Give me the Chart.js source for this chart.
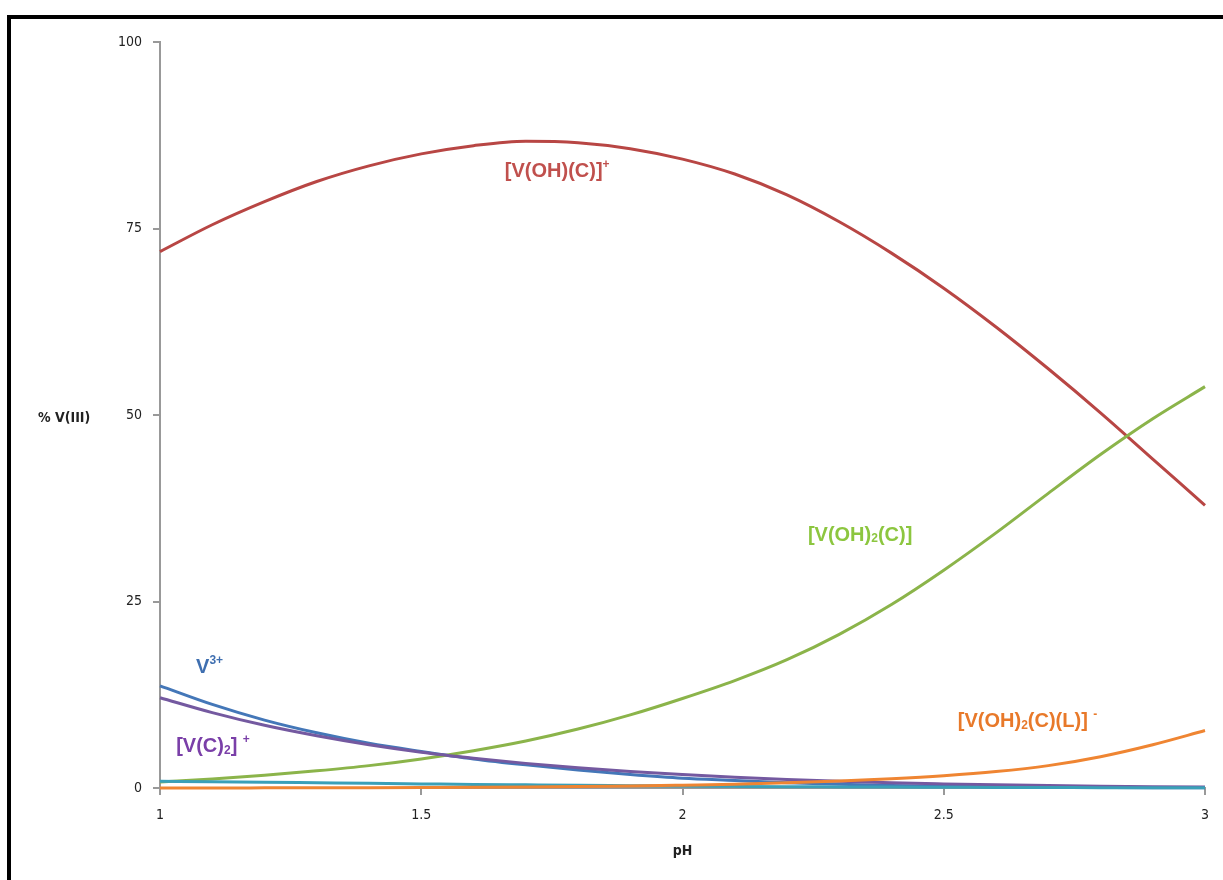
<!DOCTYPE html>
<html>
<head>
<meta charset="utf-8">
<script src="https://cdn.jsdelivr.net/npm/chart.js@4.4.1/dist/chart.umd.min.js"></script>
<style>
  html, body { margin: 0; padding: 0; background: #fff; overflow: hidden; }
  #wrap { position: relative; width: 1223px; height: 880px; }
  #frame { position: absolute; left: 7px; top: 15px; width: 1400px; height: 1000px;
           border: 4px solid #000; pointer-events: none; }
</style>
</head>
<body>
<div id="wrap">
  <canvas id="speciation" width="1223" height="880"></canvas>
  <div id="frame"></div>
</div>
<script>
// pH values (x) and % of V(III) for each species
const pH = [1.0, 1.1, 1.2, 1.3, 1.4, 1.5, 1.6, 1.7, 1.8, 1.9, 2.0,
            2.1, 2.2, 2.3, 2.4, 2.5, 2.6, 2.7, 2.8, 2.9, 3.0];

const vFree   = [13.7, 11.2, 9.1, 7.4, 6.0, 4.9, 3.9, 3.1, 2.4, 1.8, 1.3,
                 1.0, 0.7, 0.5, 0.35, 0.25, 0.18, 0.12, 0.08, 0.05, 0.03];           // V3+
const vOHC    = [71.9, 75.5, 78.6, 81.3, 83.4, 85.0, 86.1, 86.7, 86.5, 85.7, 84.3,
                 82.3, 79.5, 75.9, 71.7, 67.0, 61.8, 56.2, 50.3, 44.1, 37.9];        // [V(OH)(C)]+
const vOH2C   = [0.8, 1.2, 1.7, 2.3, 3.0, 3.9, 5.0, 6.3, 7.9, 9.8, 12.0,
                 14.4, 17.2, 20.6, 24.6, 29.2, 34.2, 39.5, 44.7, 49.5, 53.8];        // [V(OH)2(C)]
const vC2     = [12.1, 10.1, 8.4, 7.0, 5.8, 4.8, 4.0, 3.3, 2.7, 2.2, 1.8,
                 1.45, 1.15, 0.9, 0.7, 0.55, 0.42, 0.32, 0.24, 0.18, 0.13];          // [V(C)2]+
const vOther  = [0.9, 0.85, 0.78, 0.7, 0.62, 0.55, 0.48, 0.42, 0.36, 0.31, 0.26,
                 0.22, 0.18, 0.15, 0.12, 0.1, 0.08, 0.06, 0.05, 0.04, 0.03];
const vOH2CL  = [0.01, 0.01, 0.02, 0.03, 0.04, 0.06, 0.09, 0.13, 0.19, 0.27, 0.38,
                 0.5, 0.7, 0.95, 1.25, 1.65, 2.2, 3.0, 4.2, 5.8, 7.7];              // [V(OH)2(C)(L)]-

const xTicks = [1, 1.5, 2, 2.5, 3];
const yTicks = [0, 25, 50, 75, 100];

// species labels written on the plot, placed in data units (pH, %)
const speciesLabels = [
  { at: [1.66, 82.6], color: '#c0504d', parts: [['[V(OH)(C)]', 'n'], ['+', 'sup']] },
  { at: [2.24, 33.9], color: '#8cc63f', parts: [['[V(OH)', 'n'], ['2', 'sub'], ['(C)]', 'n']] },
  { at: [2.527, 8.85], color: '#e8792a', parts: [['[V(OH)', 'n'], ['2', 'sub'], ['(C)(L)] ', 'n'], ['-', 'sup']] },
  { at: [1.069, 16.1], color: '#3f6fb0', parts: [['V', 'n'], ['3+', 'sup']] },
  { at: [1.031, 5.6], color: '#7a3fa8', parts: [['[V(C)', 'n'], ['2', 'sub'], ['] ', 'n'], ['+', 'sup']] }
];

function pts(vals) {
  return pH.map((x, i) => ({ x: x, y: vals[i] }));
}

function line(vals, color) {
  return {
    data: pts(vals),
    borderColor: color,
    borderWidth: 3,
    pointRadius: 0,
    fill: false,
    cubicInterpolationMode: 'monotone',
    clip: 6
  };
}

const labelPlugin = {
  id: 'speciesText',
  afterDatasetsDraw(chart) {
    const ctx = chart.ctx;
    const xs = chart.scales.x, ys = chart.scales.y;
    ctx.save();
    ctx.textBaseline = 'middle';
    ctx.textAlign = 'left';
    speciesLabels.forEach(l => {
      let px = xs.getPixelForValue(l.at[0]);
      const py = ys.getPixelForValue(l.at[1]);
      ctx.fillStyle = l.color;
      l.parts.forEach(p => {
        let dy = 0;
        if (p[1] == 'n') ctx.font = 'bold 20px "Liberation Sans", Arial, sans-serif';
        else ctx.font = 'bold 12px "Liberation Sans", Arial, sans-serif';
        if (p[1] == 'sup') dy = -7;
        if (p[1] == 'sub') dy = 4;
        ctx.fillText(p[0], px, py + dy);
        px += ctx.measureText(p[0]).width;
      });
    });
    // axis titles
    ctx.fillStyle = '#222';
    ctx.font = 'bold 14px "DejaVu Sans Condensed", "DejaVu Sans", sans-serif';
    ctx.fillText('% V(III)', 38, ys.getPixelForValue(50) + 3);
    ctx.textAlign = 'center';
    ctx.fillText('pH', xs.getPixelForValue(2), 851);
    ctx.restore();
  }
};

const tickFont = { family: '"DejaVu Sans Condensed", "DejaVu Sans", sans-serif', size: 14 };

new Chart(document.getElementById('speciation'), {
  type: 'line',
  data: {
    datasets: [
      line(vOH2CL, '#ef8532'),
      line(vOther, '#3aa0b8'),
      line(vC2, '#7459a0'),
      line(vOH2C, '#8bb44a'),
      line(vOHC, '#b84644'),
      line(vFree, '#4477b8')
    ]
  },
  options: {
    responsive: false,
    animation: false,
    layout: { padding: { left: 0, top: 42, right: 18, bottom: 0 } },
    plugins: { legend: { display: false }, tooltip: { enabled: false } },
    scales: {
      x: {
        type: 'linear',
        min: 1, max: 3,
        afterBuildTicks: s => { s.ticks = xTicks.map(v => ({ value: v })); },
        afterFit: s => { s.height = 92; },
        ticks: { color: '#222', font: tickFont, padding: 12, callback: v => String(v) },
        grid: { drawOnChartArea: false, drawTicks: true, tickLength: 7, color: '#999', lineWidth: 2 },
        border: { color: '#999', width: 2 }
      },
      y: {
        min: 0, max: 100,
        afterBuildTicks: s => { s.ticks = yTicks.map(v => ({ value: v })); },
        afterFit: s => { s.width = 160; },
        ticks: { color: '#222', font: tickFont, padding: 11 },
        grid: { drawOnChartArea: false, drawTicks: true, tickLength: 7, color: '#999', lineWidth: 2 },
        border: { color: '#999', width: 2 }
      }
    }
  },
  plugins: [labelPlugin]
});
</script>
</body>
</html>
